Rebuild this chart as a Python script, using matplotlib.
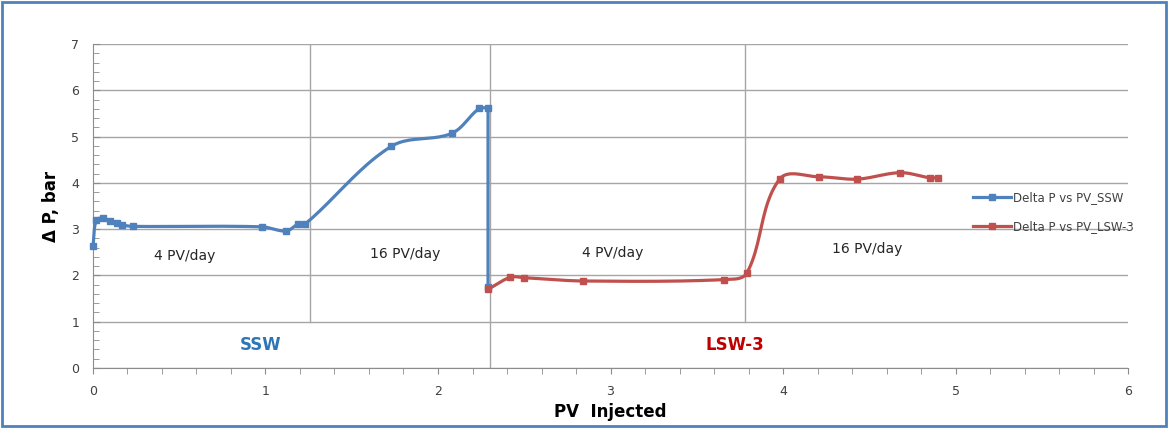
import numpy as np
import matplotlib
matplotlib.use("Agg")
import matplotlib.pyplot as plt
from matplotlib.patches import Rectangle
from matplotlib.ticker import MultipleLocator

# data
ssw_pv = [0.0, 0.02, 0.06, 0.10, 0.14, 0.17, 0.23, 0.98, 1.12, 1.19, 1.23,
          1.73, 2.08, 2.24, 2.29, 2.29]
ssw_dp = [2.63, 3.20, 3.23, 3.17, 3.13, 3.09, 3.06, 3.05, 2.96, 3.11, 3.11,
          4.79, 5.07, 5.61, 5.61, 1.74]

lsw_pv = [2.29, 2.42, 2.50, 2.84, 3.66, 3.79, 3.98, 4.21, 4.43, 4.68, 4.85, 4.90]
lsw_dp = [1.70, 1.96, 1.95, 1.88, 1.91, 2.05, 4.08, 4.13, 4.08, 4.22, 4.11, 4.11]

# stage boundaries (x, lower end of line)
stage_x = [1.26, 2.30, 3.78]
stage_ybot = [1, 0, 1]

rate_labels = ["4 PV/day", "16 PV/day", "4 PV/day", "16 PV/day"]
rate_x = [0.53, 1.81, 3.01, 4.49]
rate_y = [2.42, 2.46, 2.48, 2.57]

BLUE = "#4F81BD"
RED = "#C0504D"
GRID = "#A6A6A6"


def unit(v):
    l = np.hypot(*v)
    return v / l if l > 0 else np.zeros(2)


def smooth(ax, xs, ys, n=24):
    # excel-like smoothed line, built in display space; sharp turns stay corners
    pts = ax.transData.transform(np.column_stack([xs, ys]))
    m = len(pts)
    t_in, t_out = [], []
    for i in range(m):
        a = pts[max(i - 1, 0)]
        b = pts[min(i + 1, m - 1)]
        tg = unit(b - a)
        ti = to = tg
        if 0 < i < m - 1:
            u1 = unit(pts[i] - pts[i - 1])
            u2 = unit(pts[i + 1] - pts[i])
            if np.dot(u1, u2) < 0.3:
                ti, to = u1, u2
        t_in.append(ti)
        t_out.append(to)
    out = [pts[0]]
    t = np.linspace(0, 1, n)[1:, None]
    for i in range(m - 1):
        p0, p3 = pts[i], pts[i + 1]
        d = np.hypot(*(p3 - p0)) / 3.0
        p1 = p0 + t_out[i] * d
        p2 = p3 - t_in[i + 1] * d
        seg = ((1 - t) ** 3) * p0 + 3 * ((1 - t) ** 2) * t * p1 \
            + 3 * (1 - t) * t ** 2 * p2 + t ** 3 * p3
        out.extend(seg)
    out = ax.transData.inverted().transform(np.array(out))
    return out[:, 0], out[:, 1]


fig = plt.figure(figsize=(11.68, 4.28), dpi=100)
ax = fig.add_axes([0.0796, 0.1402, 0.8862, 0.757])
ax.set_xlim(0, 6)
ax.set_ylim(0, 7)

ax.xaxis.set_major_locator(MultipleLocator(1))
ax.xaxis.set_minor_locator(MultipleLocator(0.2))
ax.yaxis.set_major_locator(MultipleLocator(1))
ax.yaxis.set_minor_locator(MultipleLocator(0.2))
ax.grid(axis="y", which="major", color=GRID, lw=1)
ax.set_axisbelow(True)

for s in ["top", "right"]:
    ax.spines[s].set_visible(False)
for s in ["left", "bottom"]:
    ax.spines[s].set_color("#8C8C8C")
ax.tick_params(axis="y", which="both", direction="in", color="#8C8C8C",
               labelsize=9, labelcolor="#404040", pad=10)
ax.tick_params(axis="y", which="major", length=5)
ax.tick_params(axis="y", which="minor", length=4)
ax.tick_params(axis="x", which="both", direction="out", length=4,
               color="#8C8C8C", labelsize=9, labelcolor="#404040", pad=8)

for x0, yb in zip(stage_x, stage_ybot):
    ax.plot([x0, x0], [yb, 7], color=GRID, lw=1, zorder=1)

sx, sy = smooth(ax, ssw_pv, ssw_dp)
ax.plot(sx, sy, color=BLUE, lw=2.3, zorder=3, clip_on=False)
ax.plot(ssw_pv, ssw_dp, ls="none", marker="s", ms=4.5, color=BLUE, zorder=4,
        clip_on=False)
ax.plot([], [], color=BLUE, lw=2.3, marker="s", ms=4.5, label="Delta P vs PV_SSW")

rx, ry = smooth(ax, lsw_pv, lsw_dp)
ax.plot(rx, ry, color=RED, lw=2.3, zorder=3)
ax.plot(lsw_pv, lsw_dp, ls="none", marker="s", ms=4.5, color=RED, zorder=4)
ax.plot([], [], color=RED, lw=2.3, marker="s", ms=4.5, label="Delta P vs PV_LSW-3")

for lab, x, y in zip(rate_labels, rate_x, rate_y):
    ax.text(x, y, lab, ha="center", va="center", fontsize=10, color="#262626")

ax.text(0.97, 0.5, "SSW", ha="center", va="center", fontsize=12,
        fontweight="bold", color="#2E75B6")
ax.text(3.72, 0.5, "LSW-3", ha="center", va="center", fontsize=12,
        fontweight="bold", color="#C00000")

ax.set_xlabel("PV  Injected", fontsize=12, fontweight="bold", labelpad=4)
ax.set_ylabel("Δ P, bar", fontsize=12, fontweight="bold", labelpad=8)

fig.legend(loc="center left", bbox_to_anchor=(0.824, 0.505), frameon=False,
           fontsize=8.5, handlelength=3.2, handletextpad=0.2, labelspacing=1.35,
           numpoints=1, labelcolor="#404040")

fig.patches.append(Rectangle((0.002, 0.004), 0.996, 0.992, transform=fig.transFigure,
                             fill=False, edgecolor="#4F81BD", lw=2))

fig.savefig("out.png", dpi=100)
